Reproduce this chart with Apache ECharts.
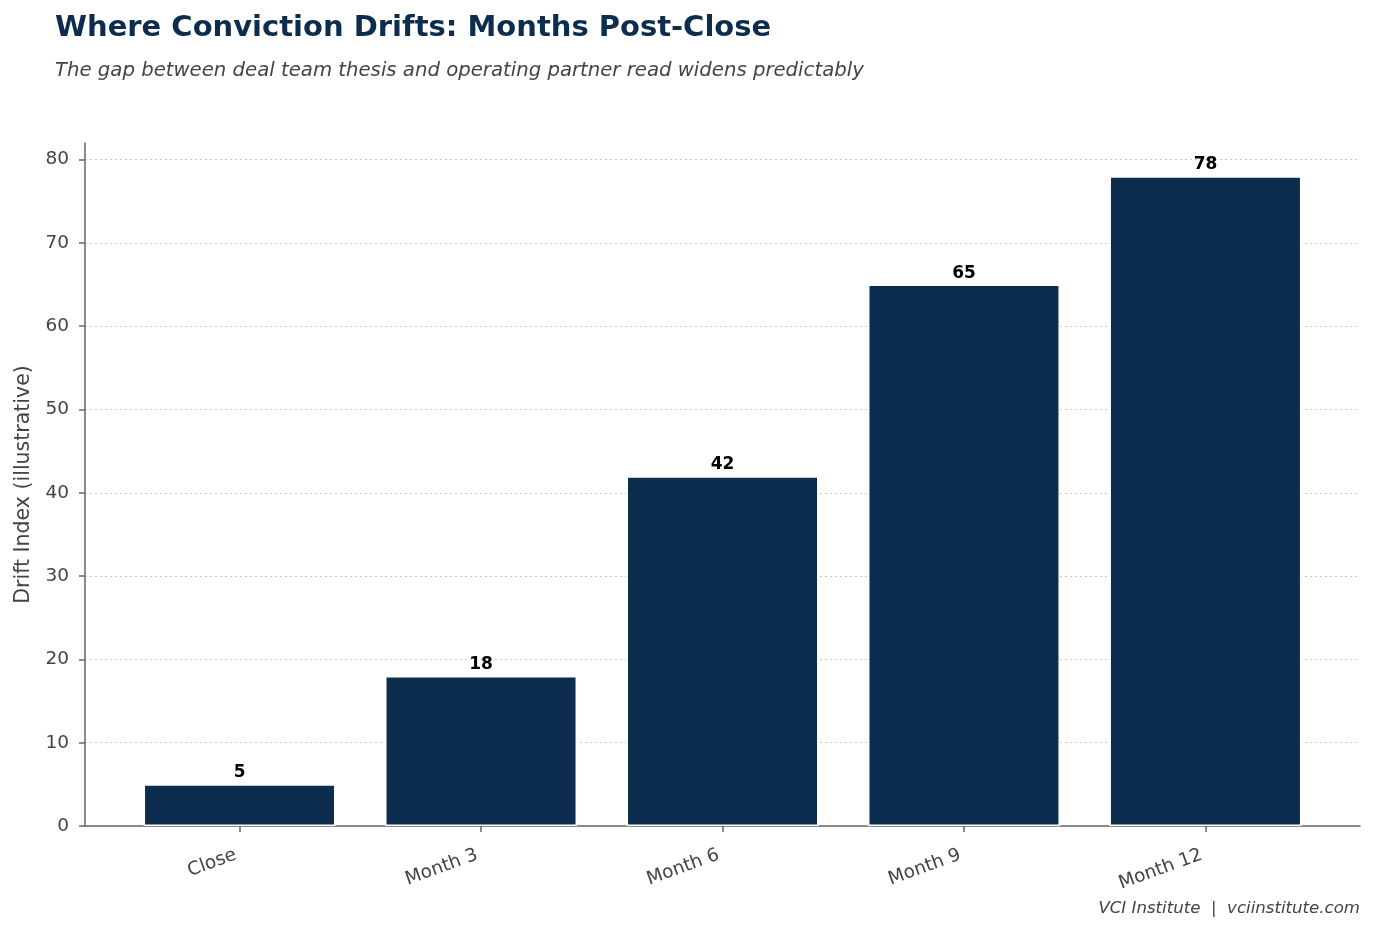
<!DOCTYPE html>
<html><head><meta charset="utf-8">
<script src="https://cdn.jsdelivr.net/npm/echarts@6/dist/echarts.min.js"></script>
<style>html,body{margin:0;padding:0;background:#fff}#c{width:1374px;height:933px}</style>
</head><body><div id="c"></div>
<script>
const categories = ["Close", "Month 3", "Month 6", "Month 9", "Month 12"];
const driftValues = [5, 18, 42, 65, 78];
const yTicks = [0, 10, 20, 30, 40, 50, 60, 70, 80];

const FONT = "DejaVu Sans";
const NAVY = "#0d2d4e";
const chart = echarts.init(document.getElementById('c'));
const idx = categories.map((_, i) => i);
chart.setOption({
  animation: false,
  backgroundColor: '#fff',
  textStyle: { fontFamily: FONT },
  title: [
    { text: 'Where Conviction Drifts: Months Post-Close', left: 50, top: 9,
      textStyle: { fontFamily: FONT, fontSize: 29, fontWeight: 'bold', color: NAVY } },
    { text: 'The gap between deal team thesis and operating partner read widens predictably', left: 50, top: 56,
      textStyle: { fontFamily: FONT, fontSize: 19.7, fontStyle: 'italic', fontWeight: 'normal', color: '#444' } },
    { text: 'VCI Institute  |  vciinstitute.com', right: 9, top: 895,
      textStyle: { fontFamily: FONT, fontSize: 16.6, fontStyle: 'italic', fontWeight: 'normal', color: '#444' } }
  ],
  grid: { left: 85, right: 14, top: 143, bottom: 107 },
  xAxis: {
    type: 'value', min: -0.64, max: 4.64,
    axisLine: { show: true, onZero: false, lineStyle: { color: '#666', width: 1.5 } },
    axisTick: { show: true, customValues: idx, length: 6, lineStyle: { color: '#666', width: 1.5 } },
    axisLabel: { customValues: idx, rotate: 20, margin: 27, padding: [0, 4, 0, 0], fontSize: 18.5, color: '#444', fontFamily: FONT,
      formatter: v => categories[Math.round(v)] },
    splitLine: { show: false }
  },
  yAxis: {
    type: 'value', min: 0, max: 82, interval: 10,
    name: 'Drift Index (illustrative)', nameLocation: 'middle', nameGap: 50,
    nameTextStyle: { fontSize: 20.5, color: '#444', fontFamily: FONT },
    axisLine: { show: true, onZero: false, lineStyle: { color: '#666', width: 1.5 } },
    axisTick: { show: true, customValues: yTicks, length: 6, lineStyle: { color: '#666', width: 1.5 } },
    axisLabel: { customValues: yTicks, fontSize: 18.5, color: '#444', fontFamily: FONT, margin: 16 },
    splitLine: { show: true, showMaxLine: true, showMinLine: false, lineStyle: { color: '#ccc', type: [2, 3], width: 1 } }
  },
  series: [{
    type: 'bar',
    data: driftValues.map((v, i) => [i, v]),
    barWidth: 192,
    itemStyle: { color: NAVY, borderColor: '#fff', borderWidth: 1.5 },
    label: { show: true, position: 'top', distance: 3, fontSize: 17, fontWeight: 'bold', color: '#000', fontFamily: FONT }
  }]
});
</script></body></html>
